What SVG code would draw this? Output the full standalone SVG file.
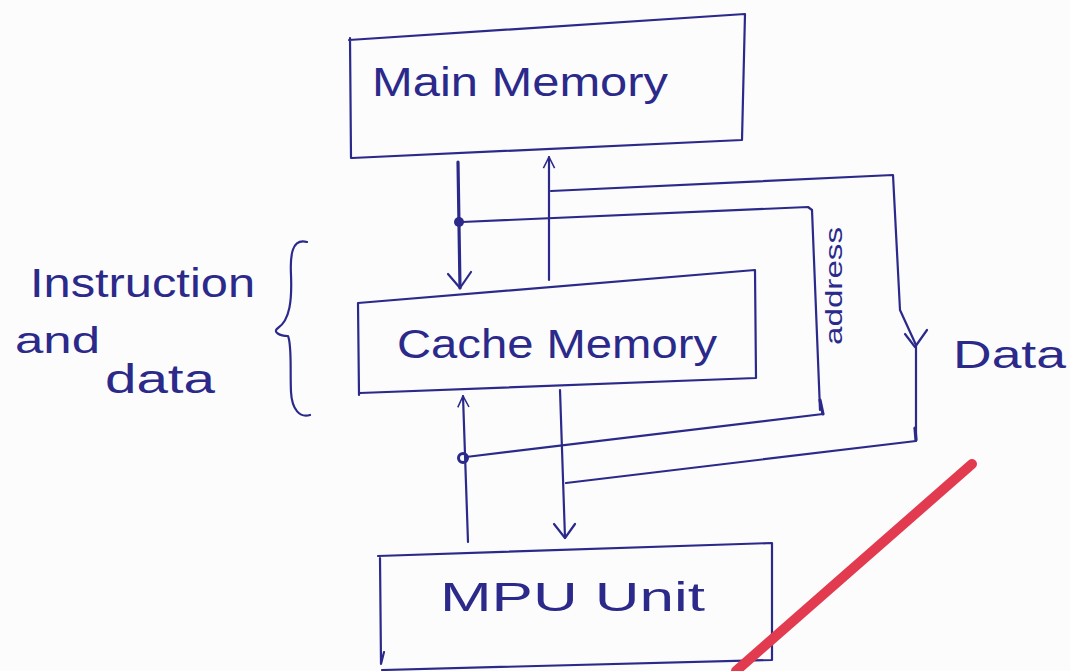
<svg xmlns="http://www.w3.org/2000/svg" width="1070" height="671" viewBox="0 0 1070 671">
<defs>
<style>
.ink{fill:none;stroke:#2b2a8a;stroke-width:2.2;stroke-linecap:round;stroke-linejoin:round}
.thick{stroke-width:3.2}
.t{font-family:"Liberation Sans","DejaVu Sans",sans-serif;fill:#2b2a8a;font-weight:normal}
</style>
<marker id="ah" viewBox="0 0 20 20" refX="18" refY="10" markerWidth="14" markerHeight="14" markerUnits="userSpaceOnUse" orient="auto">
<path d="M2,2 L18,10 L2,18" fill="none" stroke="#2b2a8a" stroke-width="2.2"/>
</marker>
</defs>
<rect width="1070" height="671" fill="#fcfcfd"/>

<g id="main-memory">
<path class="ink" d="M349,40 L745,14 M745,14 L742,140 M742,140 L352,158 M350,38 L351,158"/>
<text class="t" x="372" y="96" font-size="40" textLength="296" lengthAdjust="spacingAndGlyphs">Main Memory</text>
</g>

<g id="cache-memory">
<path class="ink" d="M358,303 L755,270 M755,270 L756,378 L360,393 M358,303 L359,395"/>
<text class="t" x="397" y="358" font-size="40" textLength="320" lengthAdjust="spacingAndGlyphs">Cache Memory</text>
</g>

<g id="mpu-unit">
<path class="ink" d="M378,556 L772,543 M772,543 L772,660 L382,670 M380,558 L381,664 L384,652"/>
<text class="t" x="440" y="611" font-size="40" textLength="265" lengthAdjust="spacingAndGlyphs">MPU  Unit</text>
</g>

<g id="connectors">
<path class="ink thick" d="M458,162 L460,288"/>
<path class="ink" d="M448,274 L460,288 L471,272"/>
<circle cx="459" cy="222" r="5" fill="#2b2a8a"/>
<path class="ink" d="M549,280 L549,157" marker-end="url(#ah)"/>
<path class="ink" d="M462,222 L808,207 L812,210 L820,410"/>
<path class="ink thick" d="M820,400 L823,414"/>
<path class="ink" d="M823,414 L466,457"/>
<circle cx="463" cy="458" r="4.5" fill="none" stroke="#2b2a8a" stroke-width="3"/>
<path class="ink" d="M551,191 L893,175 L900,310 L916,345 L916,440"/>
<path class="ink thick" d="M915,428 L916,440"/>
<path class="ink" d="M905,334 L915,347 L927,330"/>
<path class="ink" d="M916,441 L566,483"/>
<path class="ink" d="M468,542 L463,396" marker-end="url(#ah)"/>
<path class="ink" d="M560,390 L565,538"/>
<path class="ink" d="M554,524 L565,538 L575,524"/>
<text class="t" x="0" y="0" font-size="24" textLength="118" lengthAdjust="spacingAndGlyphs" transform="translate(842,345) rotate(-90)">address</text>
</g>

<g id="labels">
<text class="t" x="953" y="368" font-size="38" textLength="113" lengthAdjust="spacingAndGlyphs">Data</text>
<text class="t" x="30" y="297" font-size="40" textLength="225" lengthAdjust="spacingAndGlyphs">Instruction</text>
<text class="t" x="15" y="353" font-size="36" textLength="85" lengthAdjust="spacingAndGlyphs">and</text>
<text class="t" x="105" y="393" font-size="40" textLength="110" lengthAdjust="spacingAndGlyphs">data</text>
<path class="ink" d="M307,242 C292,238 290,255 291,275 C292,300 290,320 278,328 C272,332 280,336 288,336 C292,345 290,370 291,392 C292,410 300,418 310,415"/>
</g>

<path d="M972,464 L736,671" stroke="#e23a4e" stroke-width="10" stroke-linecap="round" fill="none"/>
</svg>
